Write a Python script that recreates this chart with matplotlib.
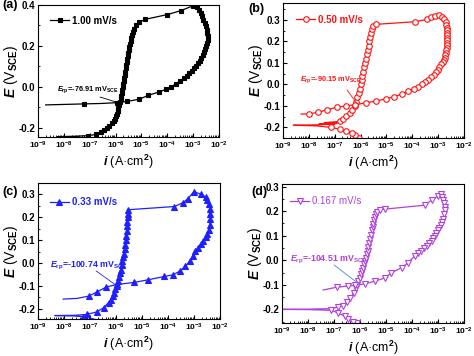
import numpy as np
import matplotlib
matplotlib.use('Agg')
import matplotlib.pyplot as plt
from matplotlib.ticker import LogLocator, FuncFormatter, MultipleLocator, NullFormatter

# scan data: log10(i / A cm^-2) and E (V vs SCE)
a_logi = [-7.05, -7.6, -8.25, -7.6, -7.05, -6.75, -6.55, -6.43, -6.32, -6.24, -6.15, -6.07, -6.02, -5.98,
          -5.95, -5.92, -5.89, -5.86, -5.83, -5.80, -5.78, -5.76, -5.74, -5.72, -5.70, -5.68, -5.66, -5.64,
          -5.62, -5.60, -5.58, -5.56, -5.54, -5.52, -5.50, -5.48, -5.46, -5.44, -5.42, -5.40, -5.37, -5.33,
          -5.27, -5.20, -5.10, -4.85, -4.0, -3.48, -2.99, -2.84, -2.77, -2.71, -2.66, -2.61, -2.56, -2.52,
          -2.48, -2.45, -2.44, -2.44, -2.46, -2.49, -2.53, -2.57, -2.62, -2.68, -2.74, -2.81, -2.88, -2.96,
          -3.05, -3.15, -3.25, -3.37, -3.50, -3.65, -3.85, -4.05, -4.30, -4.75, -5.08, -5.55, -5.95, -6.55,
          -7.20, -8.10, -8.70]
a_E = [-0.249, -0.246, -0.243, -0.241, -0.238, -0.232, -0.221, -0.211, -0.200, -0.190, -0.178, -0.167,
       -0.155, -0.143, -0.131, -0.119, -0.105, -0.090, -0.075, -0.060, -0.045, -0.030, -0.015, 0.000, 0.015,
       0.030, 0.045, 0.060, 0.075, 0.090, 0.105, 0.120, 0.135, 0.150, 0.165, 0.180, 0.195, 0.210, 0.225,
       0.240, 0.255, 0.270, 0.285, 0.300, 0.315, 0.330, 0.353, 0.372, 0.397, 0.390, 0.375, 0.361, 0.345,
       0.328, 0.312, 0.296, 0.280, 0.263, 0.247, 0.231, 0.215, 0.200, 0.185, 0.170, 0.155, 0.140, 0.127,
       0.115, 0.103, 0.090, 0.078, 0.066, 0.054, 0.042, 0.030, 0.016, 0.000, -0.012, -0.024, -0.042, -0.060,
       -0.071, -0.077, -0.081, -0.083, -0.086, -0.088]
a_skip = [1, 2, 3, 83, 85, 86]

b_logi = [-6.05, -6.20, -6.35, -6.55, -6.80, -7.15, -7.70, -8.60, -7.70, -7.00, -7.60, -6.90, -7.40, -6.80,
          -6.68, -6.55, -6.42, -6.32, -6.22, -6.17, -6.12, -6.08, -6.04, -6.00, -5.96, -5.93, -5.90, -5.86,
          -5.83, -5.79, -5.76, -5.72, -5.69, -5.66, -5.63, -5.60, -5.57, -5.52, -5.40, -3.90, -3.43, -3.26,
          -3.11, -2.98, -2.85, -2.76, -2.71, -2.68, -2.66, -2.65, -2.64, -2.64, -2.64, -2.64, -2.65, -2.66,
          -2.67, -2.68, -2.70, -2.72, -2.75, -2.79, -2.83, -2.88, -2.95, -3.02, -3.10, -3.18, -3.27, -3.38,
          -3.50, -3.62, -3.78, -3.95, -4.15, -4.40, -4.70, -5.00, -5.40, -5.80, -6.20, -6.55, -6.92, -7.30,
          -7.65, -7.99, -8.30]
b_E = [-0.250, -0.236, -0.226, -0.217, -0.208, -0.200, -0.193, -0.190, -0.188, -0.185, -0.183, -0.180,
       -0.178, -0.172, -0.160, -0.148, -0.133, -0.118, -0.100, -0.080, -0.060, -0.040, -0.020, 0.000, 0.020,
       0.040, 0.060, 0.080, 0.100, 0.120, 0.140, 0.160, 0.180, 0.200, 0.220, 0.240, 0.258, 0.272, 0.280,
       0.292, 0.303, 0.312, 0.319, 0.323, 0.316, 0.303, 0.292, 0.277, 0.265, 0.253, 0.241, 0.230, 0.218,
       0.206, 0.194, 0.183, 0.171, 0.159, 0.147, 0.136, 0.124, 0.112, 0.103, 0.093, 0.080, 0.068, 0.056,
       0.045, 0.033, 0.022, 0.010, 0.000, -0.010, -0.020, -0.032, -0.045, -0.057, -0.067, -0.077, -0.086,
       -0.094, -0.100, -0.106, -0.118, -0.130, -0.137, -0.138]
b_skip = [6, 7, 8, 9, 10, 11, 12, 86]

c_logi = [-6.47, -6.70, -6.99, -7.25, -7.60, -8.35, -7.60, -7.12, -6.73, -6.47, -6.28, -6.20, -6.13, -6.07,
          -6.02, -5.97, -5.93, -5.89, -5.85, -5.81, -5.78, -5.75, -5.72, -5.69, -5.67, -5.64, -5.62, -5.60,
          -5.58, -5.56, -5.555, -5.55, -5.55, -5.55, -5.40, -3.75, -3.42, -3.23, -3.00, -2.71, -2.55, -2.48,
          -2.42, -2.39, -2.37, -2.37, -2.39, -2.42, -2.48, -2.55, -2.64, -2.74, -2.84, -2.94, -3.03, -3.16,
          -3.33, -3.55, -3.81, -4.14, -4.78, -5.30, -5.95, -6.37, -6.73, -7.05, -7.50, -8.03]
c_E = [-0.262, -0.250, -0.241, -0.235, -0.232, -0.230, -0.229, -0.225, -0.214, -0.195, -0.173, -0.160,
       -0.145, -0.130, -0.115, -0.100, -0.080, -0.060, -0.045, -0.030, -0.010, 0.010, 0.025, 0.040, 0.060,
       0.080, 0.100, 0.120, 0.140, 0.160, 0.180, 0.200, 0.215, 0.230, 0.234, 0.247, 0.264, 0.282, 0.312,
       0.300, 0.289, 0.274, 0.259, 0.236, 0.214, 0.191, 0.168, 0.145, 0.127, 0.112, 0.097, 0.082, 0.067,
       0.052, 0.032, 0.009, -0.014, -0.036, -0.052, -0.059, -0.074, -0.085, -0.094, -0.105, -0.127, -0.145,
       -0.155, -0.158]
c_skip = [1, 2, 4, 5, 6, 34, 66, 67]

d_logi = [-6.13, -6.27, -6.45, -6.59, -6.83, -7.10, -8.00, -9.05, -8.00, -7.10, -6.83, -6.65, -6.50, -6.38,
          -6.25, -6.16, -6.11, -6.06, -6.01, -5.96, -5.91, -5.87, -5.84, -5.81, -5.77, -5.74, -5.71, -5.68,
          -5.65, -5.62, -5.58, -5.55, -5.52, -5.49, -5.45, -5.42, -5.39, -5.36, -5.23, -5.04, -3.51, -3.25,
          -3.00, -2.90, -2.84, -2.80, -2.77, -2.75, -2.74, -2.76, -2.81, -2.85, -2.90, -2.95, -3.00, -3.06,
          -3.13, -3.19, -3.25, -3.34, -3.44, -3.54, -3.64, -3.76, -3.89, -4.15, -4.40, -4.79, -5.04, -5.42,
          -5.81, -6.19, -6.46, -6.90, -7.42]
d_E = [-0.257, -0.250, -0.240, -0.228, -0.215, -0.204, -0.201, -0.200, -0.199, -0.197, -0.190, -0.185,
       -0.170, -0.154, -0.133, -0.113, -0.099, -0.085, -0.072, -0.058, -0.044, -0.030, -0.016, -0.003, 0.011,
       0.025, 0.038, 0.052, 0.070, 0.087, 0.104, 0.121, 0.135, 0.149, 0.163, 0.176, 0.187, 0.197, 0.206,
       0.208, 0.224, 0.245, 0.261, 0.270, 0.259, 0.245, 0.231, 0.218, 0.204, 0.187, 0.169, 0.155, 0.142,
       0.131, 0.121, 0.110, 0.100, 0.090, 0.080, 0.069, 0.059, 0.049, 0.039, 0.028, 0.018, -0.010, -0.030,
       -0.051, -0.072, -0.085, -0.096, -0.102, -0.105, -0.110, -0.121]
d_skip = [6, 7, 8, 9, 74]

rates = ['1.00 mV/s', '0.50 mV/s', '0.33 mV/s', '0.167 mV/s']
erp = ['-76.91', '-90.15', '-100.74', '-104.51']

plt.rcParams['font.family'] = ['Liberation Sans', 'DejaVu Sans']
plt.rcParams['font.weight'] = 'bold'
plt.rcParams['mathtext.fontset'] = 'custom'
plt.rcParams['mathtext.rm'] = 'Liberation Sans:bold'
plt.rcParams['mathtext.it'] = 'Liberation Sans:bold:italic'
plt.rcParams['mathtext.bf'] = 'Liberation Sans:bold'
plt.rcParams['axes.unicode_minus'] = False

fig = plt.figure(figsize=(4.74, 3.56), dpi=100)


def draw(rect, logi, E, skip, color, marker, mfc, ms, label, lab_weight, leg_xy,
         ylim, ymax_tick, txt_xy, txt_size, line_start, ann_xy, ann_color):
    ax = fig.add_axes(rect)
    i = 10 ** np.array(logi)
    keep = [k for k in range(len(logi)) if k not in skip]
    ax.plot(i, E, color=color, lw=0.9, marker=marker, ms=ms, mfc=mfc, mec=color,
            mew=0.8, markevery=keep, label=label)
    ax.set_xscale('log')
    ax.set_xlim(1e-9, 1e-2)
    ax.set_ylim(*ylim)
    ax.xaxis.set_major_locator(LogLocator(base=10, numticks=12))
    ax.xaxis.set_minor_locator(LogLocator(base=10, subs=np.arange(2, 10), numticks=12))
    ax.xaxis.set_minor_formatter(NullFormatter())
    ax.xaxis.set_major_formatter(FuncFormatter(lambda v, p: r'$\mathrm{10^{%d}}$' % round(np.log10(v))))
    ax.yaxis.set_major_locator(MultipleLocator(0.2 if ymax_tick > 0.35 else 0.1))
    ax.yaxis.set_minor_locator(MultipleLocator(0.1 if ymax_tick > 0.35 else 0.05))
    ax.yaxis.set_major_formatter(FuncFormatter(lambda v, p: '%.1f' % (0.0 if abs(v) < 1e-9 else v)))
    ax.tick_params(which='both', direction='in', top=False, right=False, pad=2)
    ax.tick_params(which='major', length=3, width=0.8)
    ax.tick_params(which='minor', length=1.5, width=0.6)
    ax.tick_params(axis='x', labelsize=6)
    ax.tick_params(axis='y', labelsize=7)
    for s in ax.spines.values():
        s.set_linewidth(0.8)
    ax.set_ylabel(r'$E$ (V$_{\rm SCE}$)', fontsize=10)
    ax.yaxis.set_label_coords(-0.10, 0.5)
    ax.set_xlabel(r'$i$ (A·cm$^{2}$)', fontsize=9, labelpad=1)
    leg = ax.legend(loc='center left', bbox_to_anchor=leg_xy, frameon=False, fontsize=7,
                    handlelength=2.0, handletextpad=0.3, borderpad=0, borderaxespad=0)
    for t in leg.get_texts():
        t.set_color(color)
        t.set_fontweight(lab_weight)
    ax.text(txt_xy[0], txt_xy[1], r'$E_{\rm rp}$=' + txt_xy[2] + r' mV$_{\rm SCE}$',
            transform=ax.transAxes, fontsize=txt_size, color=color, va='center', ha='left')
    ax.annotate('', xy=ann_xy, xycoords='data', xytext=line_start, textcoords='axes fraction',
                arrowprops=dict(arrowstyle='-', color=ann_color, lw=0.6, shrinkA=0, shrinkB=0))
    return ax


draw([0.080, 0.615, 0.382, 0.371], a_logi, a_E, a_skip, 'black', 's', 'black', 3.2, rates[0], 'bold',
     (0.066, 0.88), (-0.245, 0.40), 0.4, (0.105, 0.356, erp[0]), 5.3, (0.343, 0.303),
     (10 ** -5.9, -0.077), 'black')
draw([0.597, 0.612, 0.382, 0.380], b_logi, b_E, b_skip, '#ff1010', 'o', 'white', 4.0, rates[1], 'bold',
     (0.072, 0.874), (-0.25, 0.38), 0.3, (0.095, 0.43, erp[1]), 5.3, (0.354, 0.356),
     (10 ** -6.15, -0.088), '#ff1010')
draw([0.080, 0.104, 0.384, 0.382], c_logi, c_E, c_skip, '#2020ff', '^', '#2020ff', 3.8, rates[2], 'bold',
     (0.065, 0.86), (-0.245, 0.35), 0.3, (0.065, 0.39, erp[2]), 6.3, (0.32, 0.353),
     (10 ** -6.0, -0.097), '#2020ff')
draw([0.595, 0.093, 0.384, 0.390], d_logi, d_E, d_skip, '#b040e0', 'v', 'white', 4.0, rates[3], 'normal',
     (0.044, 0.878), (-0.255, 0.31), 0.3, (0.044, 0.453, erp[3]), 6.3, (0.286, 0.417),
     (10 ** -6.0, -0.1), '#4a86c8')

fig.text(0.004, 0.985, '(a)', fontsize=9, fontweight='bold', va='center')
fig.text(0.525, 0.975, '(b)', fontsize=9, fontweight='bold', va='center')
fig.text(0.004, 0.46, '(c)', fontsize=9, fontweight='bold', va='center')
fig.text(0.530, 0.46, '(d)', fontsize=9, fontweight='bold', va='center')

fig.savefig('out.png', dpi=100)
